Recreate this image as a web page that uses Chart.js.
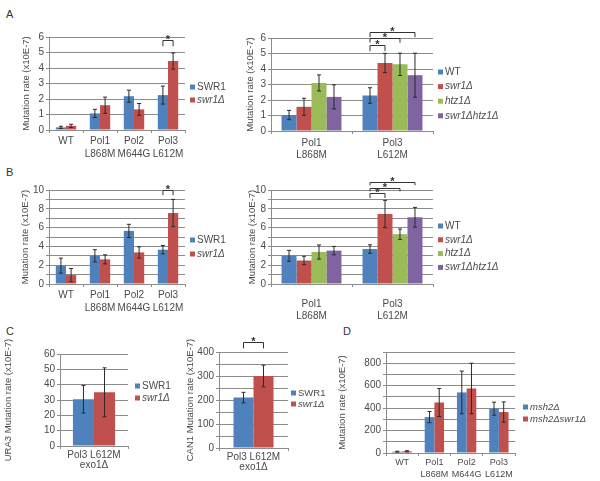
<!DOCTYPE html>
<html>
<head>
<meta charset="utf-8">
<script src="https://cdn.jsdelivr.net/npm/chart.js@4.4.0/dist/chart.umd.min.js"></script>
<style>
  body { margin: 0; background: #fff; width: 600px; height: 481px; position: relative; overflow: hidden; font-family: 'Liberation Sans', Arial, sans-serif; }
  canvas { position: absolute; }
  .tag { position: absolute; font-size: 11px; line-height: 11px; color: #333; }
</style>
</head>
<body>
<div class="tag" style="left:6px;top:9px">A</div>
<div class="tag" style="left:6px;top:167px">B</div>
<div class="tag" style="left:6px;top:326px">C</div>
<div class="tag" style="left:343px;top:326px">D</div>
<canvas id="aLeft"></canvas>
<canvas id="aRight"></canvas>
<canvas id="bLeft"></canvas>
<canvas id="bRight"></canvas>
<canvas id="cLeft"></canvas>
<canvas id="cRight"></canvas>
<canvas id="dChart"></canvas>
<script>
// ---- data ----
const polCats = ['WT', ['Pol1', 'L868M'], ['Pol2', 'M644G'], ['Pol3', 'L612M']];
const pairCats = [['Pol1', 'L868M'], ['Pol3', 'L612M']];
const exoCats = [['Pol3 L612M', 'exo1\u0394']];

const swrNames = ['SWR1', 'swr1\u0394'];
const htzNames = ['WT', 'swr1\u0394', 'htz1\u0394', 'swr1\u0394htz1\u0394'];
const mshNames = ['msh2\u0394', 'msh2\u0394swr1\u0394'];

// A left
const aSWR1 = [0.17, 1.07, 2.18, 2.25];
const aSWR1Err = [0.07, 0.26, 0.39, 0.58];
const aSwr1 = [0.27, 1.6, 1.33, 4.45];
const aSwr1Err = [0.1, 0.52, 0.38, 0.52];
// A right
const a2WT = [1.03, 2.29];
const a2WTErr = [0.3, 0.5];
const a2Swr1 = [1.56, 4.39];
const a2Swr1Err = [0.55, 0.62];
const a2Htz1 = [3.1, 4.3];
const a2Htz1Err = [0.52, 0.72];
const a2Double = [2.2, 3.6];
const a2DoubleErr = [0.78, 1.42];
// B left
const bSWR1 = [1.95, 3.0, 5.65, 3.65];
const bSWR1Err = [0.8, 0.65, 0.7, 0.45];
const bSwr1 = [0.95, 2.62, 3.36, 7.55];
const bSwr1Err = [0.7, 0.48, 0.6, 1.45];
// B right
const b2WT = [3.0, 3.72];
const b2WTErr = [0.58, 0.45];
const b2Swr1 = [2.5, 7.45];
const b2Swr1Err = [0.45, 1.45];
const b2Htz1 = [3.4, 5.3];
const b2Htz1Err = [0.75, 0.55];
const b2Double = [3.55, 7.1];
const b2DoubleErr = [0.45, 1.05];
// C
const cUraSWR1 = [30.5];
const cUraSWR1Err = [9];
const cUraSwr1 = [35];
const cUraSwr1Err = [16];
const cCanSWR1 = [210];
const cCanSWR1Err = [22];
const cCanSwr1 = [300];
const cCanSwr1Err = [45];
// D
const dMsh2 = [12, 320, 540, 395];
const dMsh2Err = [4, 50, 190, 58];
const dMsh2Swr1 = [15, 450, 575, 365];
const dMsh2Swr1Err = [5, 125, 225, 90];

// ---- style ----
const BLUE = '#4F81BD', RED = '#C0504D', GREEN = '#9BBB59', PURPLE = '#8064A2';
const GRID = '#8c8c8c', TXT = '#4a4a4a', FONT = "'Liberation Sans', Arial, sans-serif";

// error bars, significance brackets and an Excel-like legend
const extras = {
  id: 'extras',
  afterDatasetsDraw(chart, args, opts) {
    const ctx = chart.ctx, y = chart.scales.y;
    ctx.save();
    ctx.strokeStyle = '#2a2a2a';
    ctx.lineWidth = 1;
    chart.data.datasets.forEach((ds, i) => {
      chart.getDatasetMeta(i).data.forEach((bar, j) => {
        const v = ds.data[j], e = ds.errors[j];
        const t = y.getPixelForValue(v + e), b = y.getPixelForValue(Math.max(0, v - e));
        ctx.beginPath();
        ctx.moveTo(bar.x, t); ctx.lineTo(bar.x, b);
        ctx.moveTo(bar.x - 2, t); ctx.lineTo(bar.x + 2, t);
        ctx.moveTo(bar.x - 2, b); ctx.lineTo(bar.x + 2, b);
        ctx.stroke();
      });
    });
    ctx.strokeStyle = '#333';
    ctx.fillStyle = '#333';
    ctx.textAlign = 'center';
    ctx.textBaseline = 'alphabetic';
    ctx.font = 'bold 11px ' + FONT;
    (opts.brackets || []).forEach(br => {
      const x1 = chart.getDatasetMeta(br.from).data[br.cat].x;
      const x2 = chart.getDatasetMeta(br.to).data[br.cat].x;
      const yt = Math.round(y.getPixelForValue(br.y)) + 0.5, yl = y.getPixelForValue(br.leg);
      ctx.beginPath();
      ctx.moveTo(x1, yl); ctx.lineTo(x1, yt); ctx.lineTo(x2, yt); ctx.lineTo(x2, yl);
      ctx.stroke();
      ctx.fillText('*', (x1 + x2) / 2, yt + 2);
    });
    const lg = opts.legend;
    if (lg) {
      ctx.textAlign = 'left';
      ctx.textBaseline = 'middle';
      chart.data.datasets.forEach((ds, i) => {
        const cy = lg.y + i * lg.gap;
        ctx.fillStyle = ds.backgroundColor;
        ctx.fillRect(lg.x, cy - 2.5, 5, 5);
        ctx.fillStyle = TXT;
        ctx.font = (ds.label === 'SWR1' || ds.label === 'WT' ? '' : 'italic ') + lg.size + 'px ' + FONT;
        ctx.fillText(ds.label, lg.x + 7, cy);
      });
    }
    ctx.restore();
  }
};

function build(id, o) {
  const cv = document.getElementById(id);
  cv.width = o.box.w; cv.height = o.box.h;
  cv.style.left = o.box.x + 'px'; cv.style.top = o.box.y + 'px';
  const yW = o.area.l - o.box.x, padTop = o.area.t - o.box.y;
  const padRight = o.box.x + o.box.w - o.area.r, xH = o.box.y + o.box.h - o.area.b;
  return new Chart(cv, {
    type: 'bar',
    data: {
      labels: o.labels,
      datasets: o.names.map((name, i) => ({
        label: name, data: o.values[i], errors: o.errors[i],
        backgroundColor: o.colors[i], borderWidth: 0,
        categoryPercentage: o.group, barPercentage: 1
      }))
    },
    options: {
      responsive: false,
      animation: false,
      layout: { padding: { top: padTop, right: padRight, left: 0, bottom: 0 } },
      plugins: {
        legend: { display: false },
        tooltip: { enabled: false },
        extras: {
          brackets: o.brackets,
          legend: { x: o.legend.x - o.box.x, y: o.legend.y - o.box.y, gap: o.legend.gap, size: o.legend.size || 10 }
        }
      },
      scales: {
        x: {
          grid: { drawOnChartArea: false, tickLength: 3, color: GRID },
          border: { color: GRID },
          ticks: { autoSkip: false, maxRotation: 0, padding: o.xPad, color: TXT, font: { family: FONT, size: o.xSize || 10, lineHeight: o.xLine } },
          afterFit: s => { s.height = xH; }
        },
        y: {
          min: 0, max: o.max,
          grid: { color: GRID, tickLength: 3 },
          border: { color: GRID },
          ticks: {
            stepSize: o.step, autoSkip: false, padding: 2, color: TXT,
            font: { family: FONT, size: 10 },
            callback: v => (Math.abs(v % o.labelStep) < 1e-9 ? v : '')
          },
          title: {
            display: true, text: o.yTitle, color: TXT,
            font: { family: FONT, size: 9.5 },
            padding: { top: o.titleX - o.box.x - 5.7, bottom: 0 }
          },
          afterFit: s => { s.width = yW; }
        }
      }
    },
    plugins: [extras]
  });
}

const rateTitle = 'Mutation rate (x10E-7)';

build('aLeft', {
  box: { x: 0, y: 18, w: 245, h: 150 }, area: { l: 49, t: 37, r: 185, b: 130 },
  labels: polCats, names: swrNames, colors: [BLUE, RED],
  values: [aSWR1, aSwr1], errors: [aSWR1Err, aSwr1Err],
  group: 0.6, max: 6, step: 1, labelStep: 1, yTitle: rateTitle, titleX: 26,
  xPad: 2, xLine: 1.3,
  legend: { x: 190, y: 87, gap: 13 },
  brackets: [{ cat: 3, from: 0, to: 1, y: 5.8, leg: 5.4 }]
});

build('aRight', {
  box: { x: 240, y: 8, w: 265, h: 160 }, area: { l: 271, t: 38, r: 433, b: 131 },
  labels: pairCats, names: htzNames, colors: [BLUE, RED, GREEN, PURPLE],
  values: [a2WT, a2Swr1, a2Htz1, a2Double], errors: [a2WTErr, a2Swr1Err, a2Htz1Err, a2DoubleErr],
  group: 0.74, max: 6, step: 1, labelStep: 1, yTitle: rateTitle, titleX: 250,
  xPad: 3, xLine: 1.2,
  legend: { x: 438, y: 72, gap: 14.6 },
  brackets: [
    { cat: 1, from: 0, to: 1, y: 5.55, leg: 5.15 },
    { cat: 1, from: 0, to: 2, y: 6.0, leg: 5.7 },
    { cat: 1, from: 0, to: 3, y: 6.4, leg: 6.05 }
  ]
});

build('bLeft', {
  box: { x: 0, y: 170, w: 245, h: 150 }, area: { l: 49, t: 190, r: 185, b: 284 },
  labels: polCats, names: swrNames, colors: [BLUE, RED],
  values: [bSWR1, bSwr1], errors: [bSWR1Err, bSwr1Err],
  group: 0.6, max: 10, step: 1, labelStep: 2, yTitle: rateTitle, titleX: 25,
  xPad: 1.5, xLine: 1.3,
  legend: { x: 190, y: 240, gap: 14 },
  brackets: [{ cat: 3, from: 0, to: 1, y: 9.95, leg: 9.45 }]
});

build('bRight', {
  box: { x: 240, y: 165, w: 265, h: 160 }, area: { l: 271, t: 190, r: 433, b: 284 },
  labels: pairCats, names: htzNames, colors: [BLUE, RED, GREEN, PURPLE],
  values: [b2WT, b2Swr1, b2Htz1, b2Double], errors: [b2WTErr, b2Swr1Err, b2Htz1Err, b2DoubleErr],
  group: 0.74, max: 10, step: 1, labelStep: 2, yTitle: rateTitle, titleX: 252,
  xPad: 11, xLine: 1.2,
  legend: { x: 438, y: 226, gap: 13.8 },
  brackets: [
    { cat: 1, from: 0, to: 1, y: 9.7, leg: 9.15 },
    { cat: 1, from: 0, to: 2, y: 10.25, leg: 9.85 },
    { cat: 1, from: 0, to: 3, y: 10.9, leg: 10.5 }
  ]
});

build('cLeft', {
  box: { x: 0, y: 325, w: 182, h: 156 }, area: { l: 60, t: 354, r: 128, b: 446 },
  labels: exoCats, names: swrNames, colors: [BLUE, RED],
  values: [cUraSWR1, cUraSwr1], errors: [cUraSWR1Err, cUraSwr1Err],
  group: 0.62, max: 60, step: 10, labelStep: 10, yTitle: 'URA3 ' + rateTitle, titleX: 8,
  xPad: 1.5, xLine: 1.0,
  legend: { x: 135, y: 386, gap: 12 }
});

build('cRight', {
  box: { x: 180, y: 325, w: 150, h: 156 }, area: { l: 219, t: 352, r: 288, b: 448 },
  labels: exoCats, names: swrNames, colors: [BLUE, RED],
  values: [cCanSWR1, cCanSwr1], errors: [cCanSWR1Err, cCanSwr1Err],
  group: 0.58, max: 400, step: 50, labelStep: 100, yTitle: 'CAN1 ' + rateTitle, titleX: 190,
  xPad: 1.5, xLine: 1.0,
  legend: { x: 291, y: 393, gap: 11, size: 9.5 },
  brackets: [{ cat: 0, from: 0, to: 1, y: 440, leg: 415 }]
});

build('dChart', {
  box: { x: 335, y: 325, w: 265, h: 156 }, area: { l: 386, t: 352, r: 515, b: 453 },
  labels: polCats, names: mshNames, colors: [BLUE, RED],
  values: [dMsh2, dMsh2Swr1], errors: [dMsh2Err, dMsh2Swr1Err],
  group: 0.6, max: 900, step: 100, labelStep: 200, yTitle: rateTitle, titleX: 342,
  xPad: 0, xLine: 1.4, xSize: 9,
  legend: { x: 523, y: 407, gap: 12, size: 9.5 }
});
</script>
</body>
</html>
